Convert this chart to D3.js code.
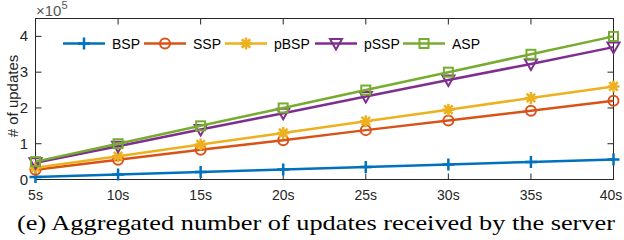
<!DOCTYPE html>
<html>
<head>
<meta charset="utf-8">
<script src="https://cdn.jsdelivr.net/npm/d3@7"></script>
<style>
  body { margin: 0; background: #fff; }
  svg { display: block; }
</style>
</head>
<body>
<svg id="chart" width="624" height="240"></svg>
<script>
// data (x10^5 updates)
var times = [5, 10, 15, 20, 25, 30, 35, 40];
var timeLabels = ["5s", "10s", "15s", "20s", "25s", "30s", "35s", "40s"];
var bsp  = [0.07, 0.14, 0.21, 0.28, 0.35, 0.42, 0.49, 0.56];
var ssp  = [0.27, 0.55, 0.83, 1.10, 1.38, 1.65, 1.92, 2.20];
var pbsp = [0.33, 0.65, 0.98, 1.30, 1.63, 1.95, 2.28, 2.60];
var pssp = [0.47, 0.93, 1.40, 1.85, 2.32, 2.78, 3.23, 3.70];
var asp  = [0.50, 1.00, 1.50, 2.00, 2.50, 3.00, 3.50, 4.00];
var yTicks = [0, 1, 2, 3, 4];

var series = [
  { name: "BSP",  values: bsp,  color: "#0072BD", marker: "plus" },
  { name: "SSP",  values: ssp,  color: "#D95319", marker: "circle" },
  { name: "pBSP", values: pbsp, color: "#EDB120", marker: "star" },
  { name: "pSSP", values: pssp, color: "#7E2F8E", marker: "tri" },
  { name: "ASP",  values: asp,  color: "#77AC30", marker: "square" }
];

var svg = d3.select("#chart");
var pLeft = 35.5, pRight = 613.5, pTop = 18.5, pBottom = 179.5;
var axisColor = "#262626";
var sans = "Liberation Sans, Arial, sans-serif";

var x = d3.scaleLinear().domain([5, 40]).range([pLeft, pRight]);
var y = d3.scaleLinear().domain([0, 4.5]).range([pBottom, pTop]);

// box
svg.append("rect")
  .attr("x", pLeft).attr("y", pTop)
  .attr("width", pRight - pLeft).attr("height", pBottom - pTop)
  .attr("fill", "none").attr("stroke", axisColor).attr("stroke-width", 1);

// ticks (inward, mirrored)
var tl = 6;
times.forEach(function(t, i) {
  svg.append("line").attr("x1", x(t)).attr("x2", x(t)).attr("y1", pBottom).attr("y2", pBottom - tl).attr("stroke", axisColor);
  svg.append("line").attr("x1", x(t)).attr("x2", x(t)).attr("y1", pTop).attr("y2", pTop + tl).attr("stroke", axisColor);
  svg.append("text").attr("x", Math.min(x(t), 611)).attr("y", 200)
    .attr("text-anchor", "middle")
    .attr("font-family", sans)
    .attr("font-size", 14).attr("fill", axisColor)
    .text(timeLabels[i]);
});
yTicks.forEach(function(v) {
  svg.append("line").attr("x1", pLeft).attr("x2", pLeft + tl).attr("y1", y(v)).attr("y2", y(v)).attr("stroke", axisColor);
  svg.append("line").attr("x1", pRight).attr("x2", pRight - tl).attr("y1", y(v)).attr("y2", y(v)).attr("stroke", axisColor);
  svg.append("text").attr("x", 28).attr("y", y(v) + 5)
    .attr("text-anchor", "end")
    .attr("font-family", sans)
    .attr("font-size", 15).attr("fill", axisColor)
    .text(v);
});

// exponent label
var expo = svg.append("text").attr("x", 36).attr("y", 16)
  .attr("font-family", sans)
  .attr("font-size", 15).attr("fill", "#555");
expo.append("tspan").text("\u00d710");
expo.append("tspan").attr("dy", -7).attr("font-size", 11).text("5");

// y label
svg.append("text")
  .attr("transform", "translate(18,96) rotate(-90)")
  .attr("text-anchor", "middle")
  .attr("font-family", sans)
  .attr("font-size", 15).attr("fill", axisColor)
  .text("# of updates");

// markers
function drawMarker(g, type, cx, cy, color) {
  if (type == "plus") {
    g.append("path").attr("d", "M" + (cx - 6) + "," + cy + "H" + (cx + 6) + "M" + cx + "," + (cy - 6) + "V" + (cy + 6))
      .attr("stroke", color).attr("stroke-width", 2.5).attr("fill", "none");
  } else if (type == "circle") {
    g.append("circle").attr("cx", cx).attr("cy", cy).attr("r", 5)
      .attr("stroke", color).attr("stroke-width", 2).attr("fill", "none");
  } else if (type == "star") {
    var r = 6, d = "";
    [0, 45, 90, 135].forEach(function(a) {
      var rad = a * Math.PI / 180;
      d += "M" + (cx - r * Math.cos(rad)) + "," + (cy - r * Math.sin(rad)) + "L" + (cx + r * Math.cos(rad)) + "," + (cy + r * Math.sin(rad));
    });
    g.append("path").attr("d", d).attr("stroke", color).attr("stroke-width", 2.5).attr("fill", "none");
  } else if (type == "tri") {
    g.append("path").attr("d", "M" + (cx - 6) + "," + (cy - 4.5) + "L" + (cx + 6) + "," + (cy - 4.5) + "L" + cx + "," + (cy + 6) + "Z")
      .attr("stroke", color).attr("stroke-width", 2).attr("fill", "none");
  } else if (type == "square") {
    g.append("rect").attr("x", cx - 4.5).attr("y", cy - 4.5).attr("width", 9).attr("height", 9)
      .attr("stroke", color).attr("stroke-width", 2).attr("fill", "none");
  }
}

var line = d3.line().x(function(d, i) { return x(times[i]); }).y(function(d) { return y(d); });

series.forEach(function(s) {
  var g = svg.append("g");
  g.append("path").datum(s.values).attr("d", line)
    .attr("fill", "none").attr("stroke", s.color).attr("stroke-width", 2.5);
  s.values.forEach(function(v, i) { drawMarker(g, s.marker, x(times[i]), y(v), s.color); });
});

// legend (entries laid out like the matlab legend)
var legendX = [63, 144, 225, 315, 403], ly = 43.5;
series.forEach(function(s, i) {
  var lx = legendX[i];
  var g = svg.append("g");
  g.append("line").attr("x1", lx).attr("x2", lx + 42).attr("y1", ly).attr("y2", ly)
    .attr("stroke", s.color).attr("stroke-width", 2.5);
  drawMarker(g, s.marker, lx + 21, ly, s.color);
  g.append("text").attr("x", lx + 49).attr("y", ly + 5)
    .attr("font-family", sans)
    .attr("font-size", 14).attr("fill", "#000")
    .text(s.name);
});

// caption
svg.append("text").attr("x", 17).attr("y", 230)
  .attr("font-family", "Liberation Serif, serif")
  .attr("font-size", 22).attr("fill", "#000")
  .attr("textLength", 598).attr("lengthAdjust", "spacingAndGlyphs")
  .text("(e) Aggregated number of updates received by the server");
</script>
</body>
</html>
